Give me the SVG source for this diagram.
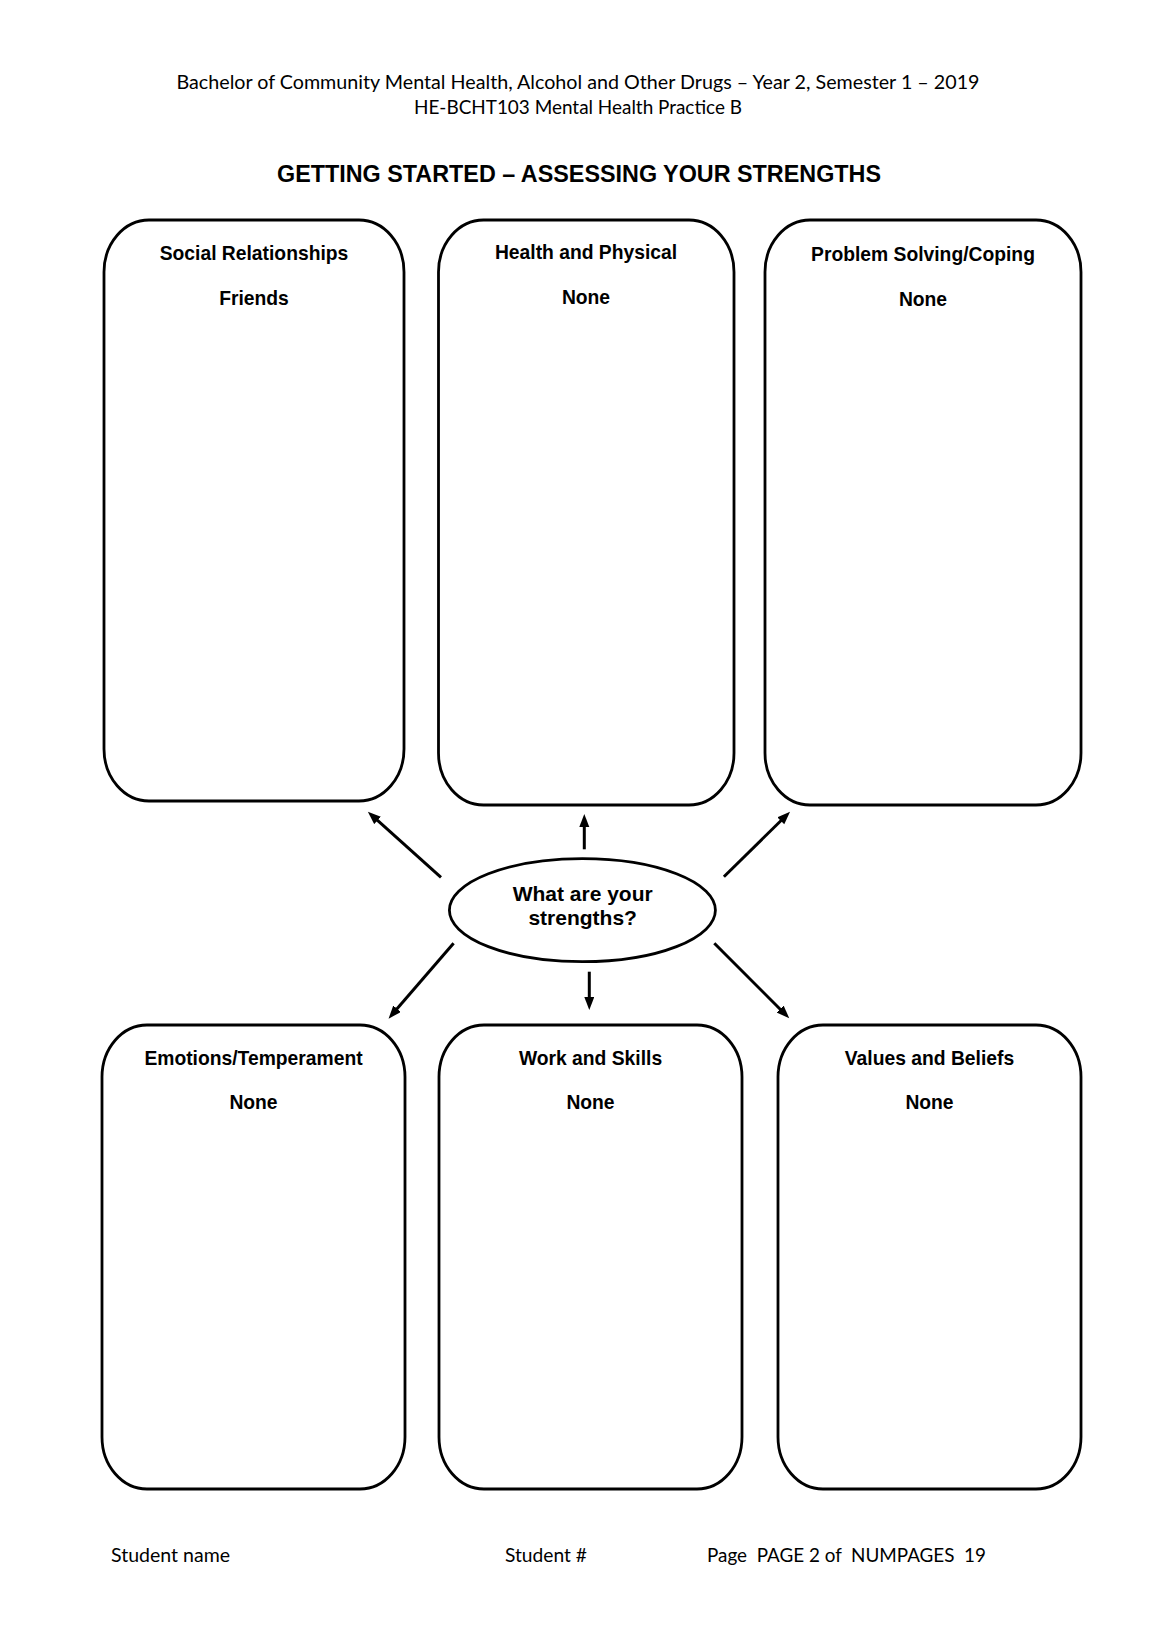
<svg xmlns="http://www.w3.org/2000/svg" width="1158" height="1638" viewBox="0 0 1158 1638">
<style>
.box{fill:#fff;stroke:#000;stroke-width:2.8}
.lbl{font-family:'Liberation Sans',Arial,sans-serif;font-weight:bold;font-size:19.3px;text-anchor:middle;fill:#000}
.clbl{font-family:'Liberation Sans',Arial,sans-serif;font-weight:bold;font-size:21px;text-anchor:middle;fill:#000}
.hdr{font-family:Lato,'Open Sans',sans-serif;font-size:19.5px;fill:#000;text-anchor:middle}
.ftr{font-family:Lato,'Open Sans',sans-serif;font-size:19.5px;fill:#000;white-space:pre}
.con{stroke:#000;stroke-width:3;fill:none;marker-end:url(#ah)}
</style>
<defs>
<marker id="ah" markerUnits="userSpaceOnUse" markerWidth="14" markerHeight="11" refX="3" refY="5" orient="auto">
<path d="M0,0 L13,5 L0,10 z" fill="#000"/>
</marker>
</defs>
<rect width="1158" height="1638" fill="#fff"/>
<g id="header">
<text class="hdr" x="578" y="89" textLength="803" lengthAdjust="spacingAndGlyphs">Bachelor of Community Mental Health, Alcohol and Other Drugs – Year 2, Semester 1 – 2019</text>
<text class="hdr" x="578" y="114" textLength="328" lengthAdjust="spacingAndGlyphs">HE-BCHT103 Mental Health Practice B</text>
</g>
<g id="title">
<text x="579" y="182" font-family="'Liberation Sans',Arial,sans-serif" font-weight="bold" font-size="23px" text-anchor="middle" textLength="604" lengthAdjust="spacingAndGlyphs">GETTING STARTED – ASSESSING YOUR STRENGTHS</text>
</g>
<g id="social">
<rect class="box" x="104" y="220" width="300" height="581" rx="45" ry="52"/>
<text class="lbl" x="254" y="260">Social Relationships</text>
<text class="lbl" x="254" y="305">Friends</text>
</g>
<g id="health">
<rect class="box" x="438.5" y="220" width="295.5" height="585" rx="45" ry="52"/>
<text class="lbl" x="586" y="259">Health and Physical</text>
<text class="lbl" x="586" y="304">None</text>
</g>
<g id="problem">
<rect class="box" x="765" y="220" width="316" height="585" rx="45" ry="52"/>
<text class="lbl" x="923" y="261">Problem Solving/Coping</text>
<text class="lbl" x="923" y="306">None</text>
</g>
<g id="center">
<ellipse class="box" cx="582.4" cy="910.2" rx="133" ry="51.5"/>
<text class="clbl" x="582.7" y="901">What are your</text>
<text class="clbl" x="582.7" y="925">strengths?</text>
</g>
<g id="emotions">
<rect class="box" x="102" y="1025" width="303" height="464" rx="45" ry="52"/>
<text class="lbl" x="253.5" y="1065">Emotions/Temperament</text>
<text class="lbl" x="253.5" y="1109">None</text>
</g>
<g id="work">
<rect class="box" x="439" y="1025" width="303" height="464" rx="45" ry="52"/>
<text class="lbl" x="590.5" y="1065">Work and Skills</text>
<text class="lbl" x="590.5" y="1109">None</text>
</g>
<g id="values">
<rect class="box" x="778" y="1025" width="303" height="464" rx="45" ry="52"/>
<text class="lbl" x="929.5" y="1065">Values and Beliefs</text>
<text class="lbl" x="929.5" y="1109">None</text>
</g>
<g id="connectors">
<line class="con" x1="441" y1="877.3" x2="375.3" y2="818.4"/>
<line class="con" x1="584.3" y1="849.3" x2="584.3" y2="824"/>
<line class="con" x1="723.9" y1="876.7" x2="782.9" y2="818.7"/>
<line class="con" x1="453.6" y1="943.3" x2="395.1" y2="1011.1"/>
<line class="con" x1="589.3" y1="971.7" x2="589.3" y2="1000"/>
<line class="con" x1="714.3" y1="943.3" x2="782.2" y2="1011.2"/>
</g>
<g id="footer">
<text class="ftr" x="111" y="1562" textLength="119" lengthAdjust="spacingAndGlyphs">Student name</text>
<text class="ftr" x="505" y="1562" textLength="82" lengthAdjust="spacingAndGlyphs">Student #</text>
<text class="ftr" x="707" y="1562" textLength="279" lengthAdjust="spacingAndGlyphs">Page  PAGE 2 of  NUMPAGES  19</text>
</g>
</svg>
